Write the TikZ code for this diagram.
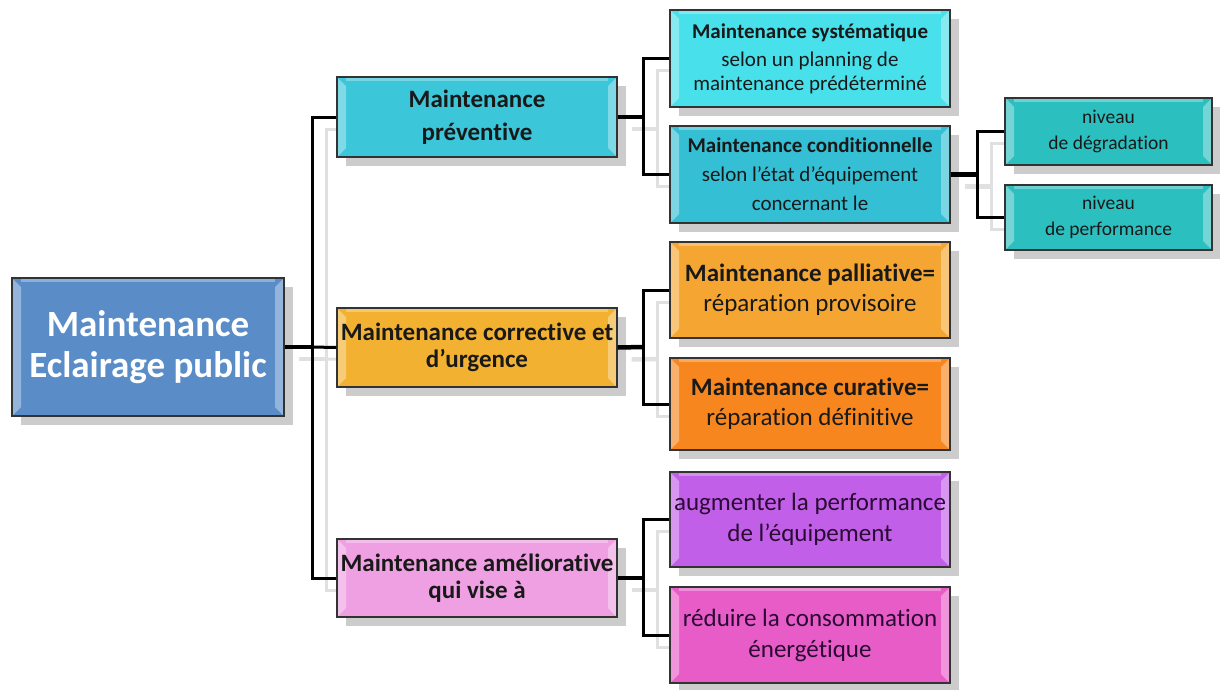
\documentclass[tikz,border=0pt]{standalone}
\usepackage{fontspec}
\setmainfont{Carlito}[Ligatures=NoCommon]
\usetikzlibrary{shadows}

\definecolor{rootblue}{HTML}{5A8DC8}
\definecolor{prevcyan}{HTML}{3BC6D9}
\definecolor{systcyan}{HTML}{48E0EA}
\definecolor{condcyan}{HTML}{35BFD4}
\definecolor{levelteal}{HTML}{2CBFC0}
\definecolor{corrgold}{HTML}{F2B131}
\definecolor{pallorange}{HTML}{F5A632}
\definecolor{curaorange}{HTML}{F7861F}
\definecolor{amelpink}{HTML}{EFA0E2}
\definecolor{augmviolet}{HTML}{C25FE8}
\definecolor{redupink}{HTML}{E85CC8}
\definecolor{inkpurple}{HTML}{2A0A33}

\pgfdeclarelayer{ghost}
\pgfsetlayers{ghost,main}

\tikzset{
  box/.style={draw=black!80, line width=1.3pt, align=center, inner sep=0pt,
    text=black!90,
    drop shadow={shadow xshift=9pt, shadow yshift=-9pt, fill=black!20, opacity=1},
    path picture={
      \fill[white,opacity=.35] ([shift={(1pt,-1pt)}]path picture bounding box.north west)
        -- ([shift={(9pt,-9pt)}]path picture bounding box.north west)
        -- ([shift={(9pt,9pt)}]path picture bounding box.south west)
        -- ([shift={(1pt,1pt)}]path picture bounding box.south west) -- cycle;
      \fill[white,opacity=.35] ([shift={(-1pt,-1pt)}]path picture bounding box.north east)
        -- ([shift={(-9pt,-9pt)}]path picture bounding box.north east)
        -- ([shift={(-9pt,9pt)}]path picture bounding box.south east)
        -- ([shift={(-1pt,1pt)}]path picture bounding box.south east) -- cycle;
      \fill[white,opacity=.3] ([shift={(9pt,-1pt)}]path picture bounding box.north west)
        rectangle ([shift={(-9pt,-4pt)}]path picture bounding box.north east);
    }},
  firstlevel/.style={box, minimum width=280pt, font=\bfseries\fontsize{25}{27}\selectfont},
  secondlevel/.style={box, minimum width=280pt, font=\fontsize{21}{24}\selectfont},
  thirdlevel/.style={box, minimum width=207pt, font=\fontsize{19.5}{26}\selectfont},
  stem/.style={line width=4.5pt},
  link/.style={line width=3pt, line join=miter},
}

\newcommand{\treelinks}{%
  \draw[stem] (root.east) -- (trunk);
  \draw[link] (prev.west) -- (trunk |- prev.west) -- (trunk |- amel.west) -- (amel.west);
  \draw[link] (trunk) -- (corr.west);
  \draw[stem] (prev.east) -- (forkA);
  \draw[link] (syst.west) -- (forkA |- syst.west) -- (forkA |- cond.west) -- (cond.west);
  \draw[stem] (cond.east) -- (forkD);
  \draw[link] (degr.west) -- (forkD |- degr.west) -- (forkD |- perf.west) -- (perf.west);
  \draw[stem] (corr.east) -- (forkB);
  \draw[link] (pall.west) -- (forkB |- pall.west) -- (forkB |- cura.west) -- (cura.west);
  \draw[stem] (amel.east) -- (forkC);
  \draw[link] (augm.west) -- (forkC |- augm.west) -- (forkC |- redu.west) -- (redu.west);
}

\begin{document}
\begin{tikzpicture}[x=1pt,y=-1pt]
\useasboundingbox (0,0) rectangle (1220,689);

% root
\node[box, fill=rootblue, minimum width=272pt, minimum height=138pt, text=white,
  font=\bfseries\fontsize{37}{41}\selectfont] (root) at (148,347) {Maintenance\\Eclairage public};

% first level
\node[firstlevel, fill=prevcyan, minimum height=80pt] (prev) at (477,117) {Maintenance\\[6pt]préventive};
\node[firstlevel, fill=corrgold, minimum height=79pt] (corr) at (477,347.5) {Maintenance corrective et\\d’urgence};
\node[firstlevel, fill=amelpink, minimum height=78pt] (amel) at (477,578) {Maintenance améliorative\\qui vise à};

% second level
\node[secondlevel, fill=systcyan, minimum height=97pt] (syst) at (810,58.5)
  {\bfseries Maintenance systématique\\[4pt]selon un planning de\\maintenance prédéterminé};
\node[secondlevel, fill=condcyan, minimum height=97pt] (cond) at (810,174.5)
  {\bfseries Maintenance conditionnelle\\[5pt]selon l'état d'équipement\\[5pt]concernant le};
\node[secondlevel, fill=pallorange, minimum height=96pt, font=\fontsize{25}{30}\selectfont] (pall) at (810,290)
  {\bfseries Maintenance palliative=\\réparation provisoire};
\node[secondlevel, fill=curaorange, minimum height=92pt, font=\fontsize{25}{30}\selectfont] (cura) at (810,404)
  {\bfseries Maintenance curative=\\réparation définitive};
\node[secondlevel, fill=augmviolet, minimum height=95pt, text=inkpurple, font=\fontsize{25}{31}\selectfont] (augm) at (810,519.5)
  {augmenter la performance\\de l'équipement};
\node[secondlevel, fill=redupink, minimum height=96pt, text=inkpurple, font=\fontsize{25}{31}\selectfont] (redu) at (810,635)
  {réduire la consommation\\énergétique};

% third level
\node[thirdlevel, fill=levelteal, minimum height=67pt] (degr) at (1108.5,131.5) {niveau\\de dégradation};
\node[thirdlevel, fill=levelteal, minimum height=65pt] (perf) at (1108.5,217.5) {niveau\\de performance};

% forks
\coordinate (trunk) at (312,347);
\coordinate (forkA) at (643,117);
\coordinate (forkB) at (643,347);
\coordinate (forkC) at (643,578);
\coordinate (forkD) at (977,174.5);

% connectors and their faint shadow
\begin{pgfonlayer}{ghost}
  \begin{scope}[transform canvas={shift={(14pt,-12pt)}}, black!12]
    \treelinks
  \end{scope}
\end{pgfonlayer}
\begin{scope}[black]
  \treelinks
\end{scope}

\end{tikzpicture}
\end{document}
